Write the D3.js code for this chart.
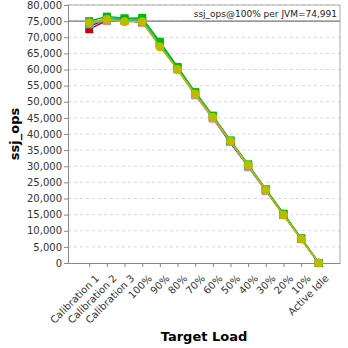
<!DOCTYPE html>
<html><head><meta charset="utf-8">
<script src="https://cdn.jsdelivr.net/npm/d3@7"></script>
<style>body{margin:0;background:#fff}svg{display:block}text{font-family:"DejaVu Sans",sans-serif}</style>
</head><body><svg id="c" width="348" height="348"></svg>
<script>
const categories = ["Calibration 1","Calibration 2","Calibration 3","100%","90%","80%","70%","60%","50%","40%","30%","20%","10%","Active Idle"];
const seriesNames = ["JVM 1","JVM 2","JVM 3","JVM 4","JVM 5","JVM 6","JVM 7"];
const seriesColors = ["#cc0000","#0000cc","#ff66ff","#999999","#00cccc","#00bb00","#bbbb00"];
const seriesValues = [
  [72500,75200,75300,74600,68000,60300,52600,45200,37600,29900,22500,14900,7500,0],
  [73500,75600,75500,75100,68200,60500,52400,45000,37200,30100,22700,15100,7550,0],
  [74200,75300,75200,75000,67800,60000,52000,44800,37500,29800,22400,15000,7450,0],
  [74000,75400,75100,74900,67600,60200,52200,45100,37700,30000,22600,15000,7500,0],
  [74300,75800,75600,75300,68300,60600,52700,45400,37900,30300,22800,15200,7600,0],
  [75000,76400,75900,76000,68600,60800,53000,45700,38000,30600,22800,15300,7600,0],
  [74500,75500,74800,74800,67000,60000,52400,45200,37800,30300,22600,14900,7450,0]
];
const yTicks = [0,5000,10000,15000,20000,25000,30000,35000,40000,45000,50000,55000,60000,65000,70000,75000,80000];
const refValue = 74991;
const refLabel = "ssj_ops@100% per JVM=74,991";

const svg = d3.select("#c");
const L=68,R=340,T=5,B=263;
const x = d3.scalePoint().domain(categories).range([L,R]).padding(1.2);
const y = d3.scaleLinear().domain([0,80000]).range([B,T]);

svg.append("g").selectAll("line").data(yTicks.slice(1)).join("line")
  .attr("x1",L).attr("x2",R).attr("y1",d=>y(d)).attr("y2",d=>y(d))
  .attr("stroke","#d8d8d8").attr("stroke-dasharray","3,3");
svg.append("path").attr("d",`M${L},${T}H${R}V${B}`).attr("fill","none").attr("stroke","#aaaaaa");

const ya = d3.axisLeft(y).tickValues(yTicks).tickFormat(d3.format(",")).tickSize(4).tickPadding(2);
const gy = svg.append("g").attr("transform",`translate(${L},0)`).call(ya);
gy.selectAll("text").attr("font-size","10px").attr("fill","#333");
gy.selectAll("line,path").attr("stroke","#888");

const xa = d3.axisBottom(x).tickSize(4).tickSizeOuter(0);
const gx = svg.append("g").attr("transform",`translate(0,${B})`).call(xa);
gx.selectAll("line,path").attr("stroke","#888");
gx.selectAll("text").attr("font-size","10px").attr("fill","#333")
  .attr("text-anchor","end").attr("dy","0").attr("transform","translate(5,11) rotate(-45)");

svg.append("line").attr("x1",L).attr("x2",R).attr("y1",y(refValue)).attr("y2",y(refValue)).attr("stroke","#777").attr("stroke-width",1.2);
svg.append("text").attr("x",R-3).attr("y",y(refValue)-4).attr("text-anchor","end").attr("font-size","9px").attr("fill","#222").text(refLabel);

const line = d3.line().x((d,i)=>x(categories[i])).y(d=>y(d));
seriesValues.forEach((vals,si)=>{
  const c = seriesColors[si];
  svg.append("path").datum(vals).attr("d",line).attr("fill","none").attr("stroke",c).attr("stroke-width",1.5);
  const g = svg.append("g");
  if(si===6){
    g.selectAll("circle").data(vals).join("circle").attr("cx",(d,i)=>x(categories[i])).attr("cy",d=>y(d)).attr("r",4.5).attr("fill",c);
  } else if(si===1){
    g.selectAll("path").data(vals).join("path").attr("d",d3.symbol(d3.symbolTriangle,30)).attr("transform",(d,i)=>`translate(${x(categories[i])},${y(d)})`).attr("fill",c);
  } else {
    g.selectAll("rect").data(vals).join("rect").attr("x",(d,i)=>x(categories[i])-4).attr("y",d=>y(d)-4).attr("width",8).attr("height",8).attr("fill",c);
  }
});

svg.append("text").attr("transform",`translate(19,${(T+B)/2}) rotate(-90)`).attr("text-anchor","middle").attr("font-size","13px").attr("font-weight","bold").text("ssj_ops");
svg.append("text").attr("x",(L+R)/2).attr("y",341).attr("text-anchor","middle").attr("font-size","13px").attr("font-weight","bold").text("Target Load");
</script></body></html>
